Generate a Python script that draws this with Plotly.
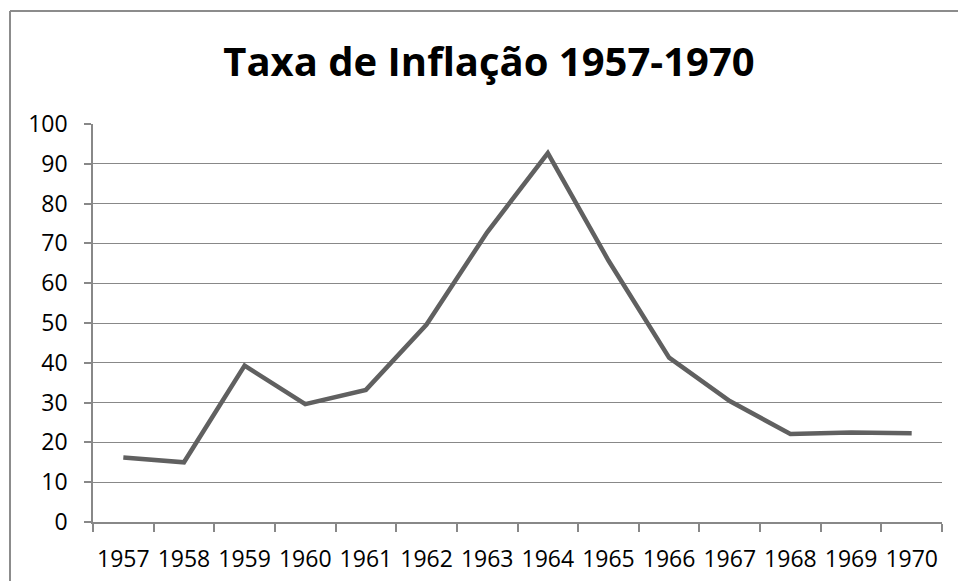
import plotly.graph_objects as go

years = ["1957", "1958", "1959", "1960", "1961", "1962", "1963",
         "1964", "1965", "1966", "1967", "1968", "1969", "1970"]
inflation = [16.2, 15.0, 39.3, 29.6, 33.2, 49.6, 72.8,
             92.7, 65.7, 41.3, 30.4, 22.1, 22.5, 22.3]
y_ticks = [0, 10, 20, 30, 40, 50, 60, 70, 80, 90, 100]
title_text = "Taxa de Inflação 1957-1970"

W, H = 958, 581
L, R, T, B = 93, 16, 124, 59
pw, ph = W - L - R, H - T - B

def px_x(x):
    return (x - L) / pw

def px_y(y):
    return (H - B - y) / ph

fig = go.Figure()
fig.add_trace(go.Scatter(
    x=years, y=inflation, mode="lines",
    line=dict(color="#606060", width=4.5),
    showlegend=False, hoverinfo="skip",
))

font_family = "Open Sans, Lato, sans-serif"
frame_color = "#8c8c8c"

fig.update_layout(
    width=W, height=H,
    margin=dict(l=L, r=R, t=T, b=B, pad=0, autoexpand=False),
    paper_bgcolor="white", plot_bgcolor="white",
    title=dict(text="<b>" + title_text + "</b>", x=489 / W, xref="container",
               xanchor="center", y=1 - 62 / H, yref="container", yanchor="middle",
               font=dict(family=font_family, size=40, color="black")),
    font=dict(family=font_family, size=23, color="black"),
    xaxis=dict(
        type="category", tickson="boundaries", ticks="outside", ticklen=8,
        tickcolor="#888888", tickwidth=1.5, showline=True, linecolor="#888888",
        linewidth=1.5, showgrid=False, zeroline=False, tickangle=0,
        automargin=False,
        tickfont=dict(family=font_family, size=23, color="black"),
        range=[-0.5, len(years) - 0.5], ticklabelstandoff=16,
    ),
    yaxis=dict(
        range=[0, 100], tickvals=y_ticks, ticks="outside", ticklen=7,
        tickcolor="#888888", tickwidth=1.5, showline=True, linecolor="#888888",
        linewidth=1.5, showgrid=True, gridcolor="#888888", gridwidth=1.3,
        zeroline=False, automargin=False,
        tickfont=dict(family=font_family, size=23, color="black"),
        ticklabelstandoff=12,
    ),
    shapes=[
        dict(type="line", xref="paper", yref="paper",
             x0=px_x(10), x1=px_x(965), y0=px_y(11), y1=px_y(11),
             line=dict(color=frame_color, width=2)),
        dict(type="line", xref="paper", yref="paper",
             x0=px_x(10), x1=px_x(10), y0=px_y(11), y1=px_y(590),
             line=dict(color=frame_color, width=2)),
    ],
)

fig.write_html("out.html", config={"displayModeBar": False},
               post_script="document.body.style.margin='0';document.body.style.overflow='hidden';")
